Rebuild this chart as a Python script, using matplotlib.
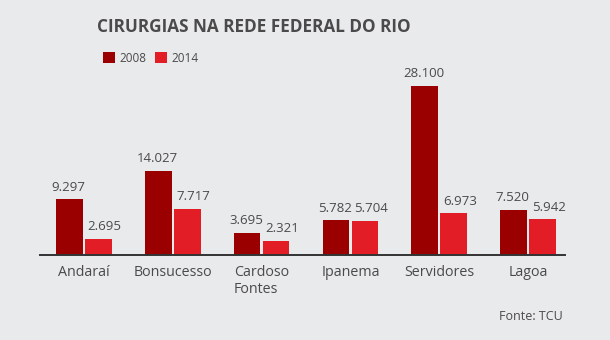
import numpy as np
import matplotlib.pyplot as plt

hospitais = ["Andaraí", "Bonsucesso", "Cardoso\nFontes", "Ipanema", "Servidores", "Lagoa"]
cirurgias_2008 = [9297, 14027, 3695, 5782, 28100, 7520]
cirurgias_2014 = [2695, 7717, 2321, 5704, 6973, 5942]

bg = "#e9eaec"
cor_2008 = "#9b0000"
cor_2014 = "#e21d25"
texto = "#4a4a4a"

plt.rcParams['font.family'] = ['Open Sans', 'DejaVu Sans']

fig = plt.figure(figsize=(6.1, 3.4), dpi=100, facecolor=bg)
W, H = 610, 340
# axes placed in pixel terms: baseline at y=255, x from 40 to 565
ax = fig.add_axes([40 / W, (H - 255) / H, 525 / W, 195 / H])
ax.set_facecolor(bg)

x = np.arange(len(hospitais))
w = 0.30
off = 0.163
b1 = ax.bar(x - off, cirurgias_2008, w, color=cor_2008, label="2008")
b2 = ax.bar(x + off, cirurgias_2014, w, color=cor_2014, label="2014")

def fmt(v):
    return f"{v:,}".replace(",", ".")

# 2014 labels sit a little to the right so neighbours don't collide
for bars, vals, dx in [(b1, cirurgias_2008, -0.5), (b2, cirurgias_2014, 4.5)]:
    for r, v in zip(bars, vals):
        ax.annotate(fmt(v), (r.get_x() + r.get_width() / 2, v),
                    xytext=(dx, 4), textcoords="offset points",
                    ha="center", va="bottom", fontsize=9.5, color=texto)

ax.set_xlim(-0.494, 5.416)
ax.set_ylim(0, 28100 * 195 / 169)
ax.set_yticks([])
ax.set_xticks(x)
ax.set_xticklabels(hospitais, fontsize=10.3, color=texto)
for lab in ax.get_xticklabels():
    lab.set_multialignment("left")
ax.tick_params(axis="x", length=0, pad=7)
for s in ["top", "left", "right"]:
    ax.spines[s].set_visible(False)
ax.spines["bottom"].set_color("#333333")
ax.spines["bottom"].set_linewidth(1.4)

fig.text(254 / W, 1 - 27 / H, "CIRURGIAS NA REDE FEDERAL DO RIO",
         ha="center", va="center", fontsize=12.3, fontweight="bold", color=texto)

leg = fig.legend(handles=[b1, b2], loc="center left",
                 bbox_to_anchor=(103 / W, 1 - 58 / H), ncol=2, frameon=False,
                 fontsize=8.5, handlelength=1.0, handleheight=1.0,
                 handletextpad=0.35, columnspacing=0.8, borderaxespad=0,
                 borderpad=0)
for t in leg.get_texts():
    t.set_color(texto)

fig.text(563 / W, 1 - 317 / H, "Fonte: TCU", ha="right", va="center",
         fontsize=9, color=texto)

fig.savefig("out.png", dpi=100, facecolor=bg)
